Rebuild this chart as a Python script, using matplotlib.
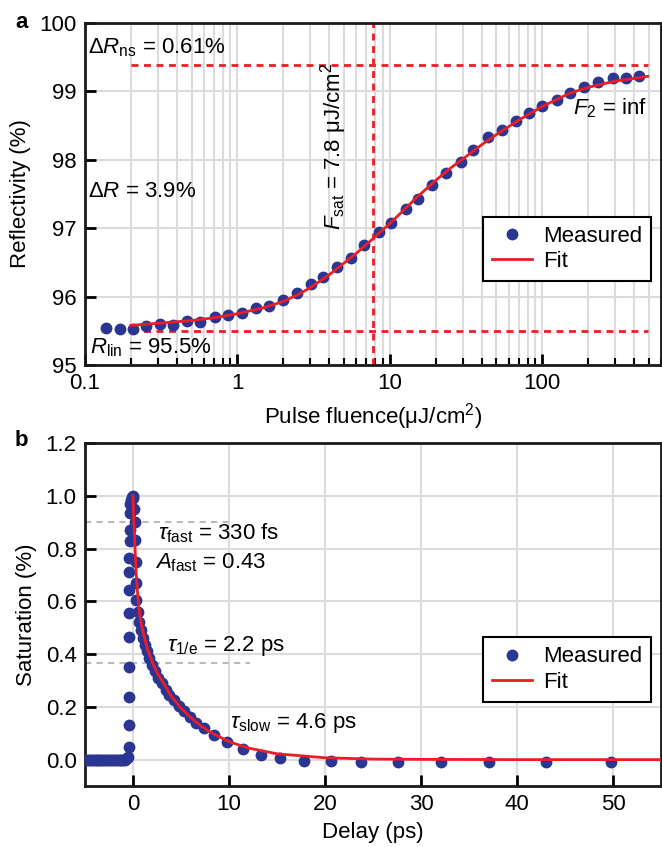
import numpy as np
import matplotlib
matplotlib.use("Agg")
from matplotlib import pyplot as plt
from matplotlib.ticker import LogLocator, NullFormatter, FuncFormatter

plt.rcParams['font.family'] = ['Liberation Sans', 'DejaVu Sans']
plt.rcParams['mathtext.fontset'] = 'custom'
plt.rcParams['mathtext.rm'] = 'Liberation Sans'
plt.rcParams['mathtext.it'] = 'Liberation Sans:italic'
plt.rcParams['mathtext.bf'] = 'Liberation Sans:bold'
plt.rcParams['font.size'] = 16

NAVY = '#2b3592'
RED = '#ee1d25'
GRID = '#dcdcdc'

# ---- panel a: reflectivity vs pulse fluence ----
fluence = [0.137, 0.170, 0.206, 0.251, 0.310, 0.378, 0.466, 0.567, 0.711, 0.867,
           1.07, 1.32, 1.61, 1.99, 2.45, 3.03, 3.64, 4.49, 5.52, 6.76,
           8.51, 10.2, 12.7, 15.4, 18.8, 23.3, 29.2, 35.2, 44.1, 54.0,
           66.7, 81.9, 100, 125, 151, 188, 232, 289, 353, 432]
refl = [95.54, 95.52, 95.52, 95.57, 95.60, 95.59, 95.64, 95.63, 95.70, 95.73,
        95.76, 95.83, 95.86, 95.95, 96.05, 96.18, 96.29, 96.43, 96.57, 96.75,
        96.95, 97.08, 97.28, 97.43, 97.63, 97.81, 97.97, 98.14, 98.34, 98.43,
        98.57, 98.69, 98.79, 98.88, 98.98, 99.06, 99.14, 99.19, 99.19, 99.23]

fit_fluence = [0.2, 0.3, 0.5, 0.7, 1.0, 1.5, 2.0, 2.5, 3.0, 4.0, 5.0, 6.0, 7.0, 8.5,
               10, 12, 15, 20, 25, 30, 40, 50, 70, 100, 150, 200, 300, 400, 490]
fit_refl = [95.58, 95.61, 95.65, 95.69, 95.75, 95.84, 95.93, 96.03, 96.13, 96.32,
            96.49, 96.63, 96.76, 96.93, 97.07, 97.24, 97.45, 97.70, 97.88, 98.01,
            98.22, 98.37, 98.58, 98.78, 98.97, 99.06, 99.15, 99.19, 99.22]

R_lin = 95.49
R_ns = 99.39
F_sat = 7.8
F_line = [0.2, 490]

# ---- panel b: saturation vs delay ----
delay = [-5.0, -4.8, -4.6, -4.4, -4.2, -4.0, -3.8, -3.6, -3.4, -3.2, -3.0, -2.8,
         -2.6, -2.4, -2.2, -2.0, -1.8, -1.6, -1.4, -1.2, -1.0, -0.8, -0.6,
         -0.5, -0.45, -0.45, -0.45, -0.45, -0.45, -0.43, -0.42, -0.40, -0.38,
         -0.36, -0.34, -0.32, -0.28, -0.2, -0.1, 0.0, 0.05, 0.12, 0.2, 0.25,
         0.28, 0.3, 0.35, 0.5, 0.65, 0.8, 1.0, 1.2, 1.45, 1.7, 2.0, 2.3, 2.65,
         3.0, 3.4, 3.8, 4.25, 4.75, 5.3, 5.9, 6.6, 7.4, 8.4, 9.8, 11.5, 13.3,
         15.3, 17.8, 20.6, 23.8, 27.6, 32.1, 37.1, 43.0, 49.8]
saturation = [0.0, 0.0, 0.0, 0.0, 0.0, 0.0, 0.0, 0.0, 0.0, 0.0, 0.0, 0.0,
              0.0, 0.0, 0.0, 0.0, 0.0, 0.0, 0.0, 0.0, 0.0, 0.0, 0.005,
              0.01, 0.047, 0.13, 0.237, 0.35, 0.464, 0.555, 0.642, 0.712, 0.764,
              0.83, 0.87, 0.935, 0.97, 0.985, 0.995, 1.0, 0.99, 0.95, 0.90, 0.833,
              0.75, 0.668, 0.605, 0.56, 0.522, 0.49, 0.46, 0.435, 0.41, 0.385, 0.36,
              0.335, 0.31, 0.29, 0.265, 0.245, 0.225, 0.205, 0.185, 0.16, 0.14,
              0.12, 0.095, 0.065, 0.04, 0.018, 0.005, -0.004, -0.006, -0.008,
              -0.008, -0.008, -0.008, -0.008, -0.008]

fit_delay = [0, 0.05, 0.1, 0.2, 0.3, 0.4, 0.5, 0.7, 1.0, 1.5, 2.0, 2.5, 3, 3.5, 4,
             5, 6, 7, 8, 10, 12, 15, 20, 25, 30, 40, 55]
fit_sat = [1.0, 0.94, 0.89, 0.81, 0.73, 0.67, 0.62, 0.55, 0.49, 0.42, 0.37, 0.33,
           0.30, 0.27, 0.24, 0.195, 0.16, 0.13, 0.105, 0.068, 0.044, 0.022, 0.007,
           0.002, 0.001, 0.0, 0.0]

W, H = 662, 847
fig = plt.figure(figsize=(W / 100, H / 100), dpi=100)
ax1 = fig.add_axes([85 / W, 1 - 365 / H, 576 / W, 342 / H])
ax2 = fig.add_axes([85 / W, 1 - 786 / H, 576 / W, 343 / H])

def style(ax):
    for s in ax.spines.values():
        s.set_linewidth(2)
        s.set_color('#1a1a1a')
    ax.tick_params(which='major', direction='in', length=8, width=2,
                   top=False, right=False, pad=6)
    ax.tick_params(which='minor', direction='in', length=5, width=1.5,
                   top=False, right=False)
    ax.set_axisbelow(True)

def add_legend(ax):
    leg = ax.legend(loc='upper right', bbox_to_anchor=(0.983, 0.433), borderaxespad=0,
                    fancybox=False, framealpha=1, edgecolor='black', handlelength=1.8,
                    handletextpad=0.5, borderpad=0.4, labelspacing=0.2)
    leg.get_frame().set_linewidth(1.5)

# panel a
ax1.set_xscale('log')
ax1.plot(fluence, refl, 'o', color=NAVY, ms=7.5, label='Measured', zorder=3)
ax1.plot(fit_fluence, fit_refl, '-', color=RED, lw=2, label='Fit', zorder=4)
ax1.plot(F_line, [R_ns, R_ns], ls=(0, (2.5, 2)), color=RED, lw=2)
ax1.plot(F_line, [R_lin, R_lin], ls=(0, (2.5, 2)), color=RED, lw=2)
ax1.axvline(F_sat, ls=(0, (2.5, 2)), color=RED, lw=2)
ax1.set_xlim(0.1, 600)
ax1.set_ylim(95, 100)
ax1.set_xticks([0.1, 1, 10, 100])
ax1.set_xticklabels(['0.1', '1', '10', '100'])
ax1.xaxis.set_minor_locator(LogLocator(base=10, subs=np.arange(2, 10)))
ax1.xaxis.set_minor_formatter(NullFormatter())
ax1.set_yticks([95, 96, 97, 98, 99, 100])
ax1.grid(which='major', color=GRID, lw=1.5)
ax1.grid(which='minor', axis='x', color=GRID, lw=1.5)
style(ax1)
ax1.set_xlabel(r'Pulse fluence(μJ/cm$^2$)', labelpad=5)
ax1.set_ylabel('Reflectivity (%)', labelpad=6)

ax1.text(0.005, 0.927, r'$\mathit{Δ R}_\mathrm{ns}$ = 0.61%', transform=ax1.transAxes,
         ha='left', va='center')
ax1.text(0.005, 0.508, r'$\mathit{Δ R}$ = 3.9%', transform=ax1.transAxes,
         ha='left', va='center')
ax1.text(0.008, 0.05, r'$\mathit{R}_\mathrm{lin}$ = 95.5%', transform=ax1.transAxes,
         ha='left', va='center')
ax1.text(0.976, 0.751, r'$\mathit{F}_2$ = inf', transform=ax1.transAxes,
         ha='right', va='center')
ax1.text(0.432, 0.64, r'$\mathit{F}_\mathrm{sat}$ = 7.8 μJ/cm$^2$', transform=ax1.transAxes,
         ha='center', va='center', rotation=90)
add_legend(ax1)

# panel b
ax2.plot(delay, saturation, 'o', color=NAVY, ms=7.5, label='Measured', zorder=3)
ax2.plot(fit_delay, fit_sat, '-', color=RED, lw=2, label='Fit', zorder=4)
ax2.plot([-5, 10], [0.9, 0.9], ls=(0, (3, 2.5)), color='#bbbbbb', lw=1.5)
ax2.plot([-5, 12.2], [0.368, 0.368], ls=(0, (3, 2.5)), color='#bbbbbb', lw=1.5)
ax2.set_xlim(-5, 55)
ax2.set_ylim(-0.1, 1.2)
ax2.set_xticks([0, 10, 20, 30, 40, 50])
ax2.set_yticks([0.0, 0.2, 0.4, 0.6, 0.8, 1.0, 1.2])
ax2.yaxis.set_major_formatter(FuncFormatter(lambda v, p: '{:.1f}'.format(v)))
ax2.grid(which='major', color=GRID, lw=1.5)
style(ax2)
ax2.set_xlabel('Delay (ps)', labelpad=5)
ax2.set_ylabel('Saturation (%)', labelpad=6)

ax2.text(0.127, 0.738, r'$\tau_\mathrm{fast}$ = 330 fs', transform=ax2.transAxes,
         ha='left', va='center')
ax2.text(0.121, 0.650, r'$\mathit{A}_\mathrm{fast}$ = 0.43', transform=ax2.transAxes,
         ha='left', va='center')
ax2.text(0.142, 0.408, r'$\tau_\mathrm{1/e}$ = 2.2 ps', transform=ax2.transAxes,
         ha='left', va='center')
ax2.text(0.251, 0.184, r'$\tau_\mathrm{slow}$ = 4.6 ps', transform=ax2.transAxes,
         ha='left', va='center')
add_legend(ax2)

fig.text(22 / W, 1 - 22 / H, 'a', fontweight='bold', ha='center', va='center')
fig.text(21 / W, 1 - 440 / H, 'b', fontweight='bold', ha='center', va='center')

fig.savefig('out.png', dpi=100)
